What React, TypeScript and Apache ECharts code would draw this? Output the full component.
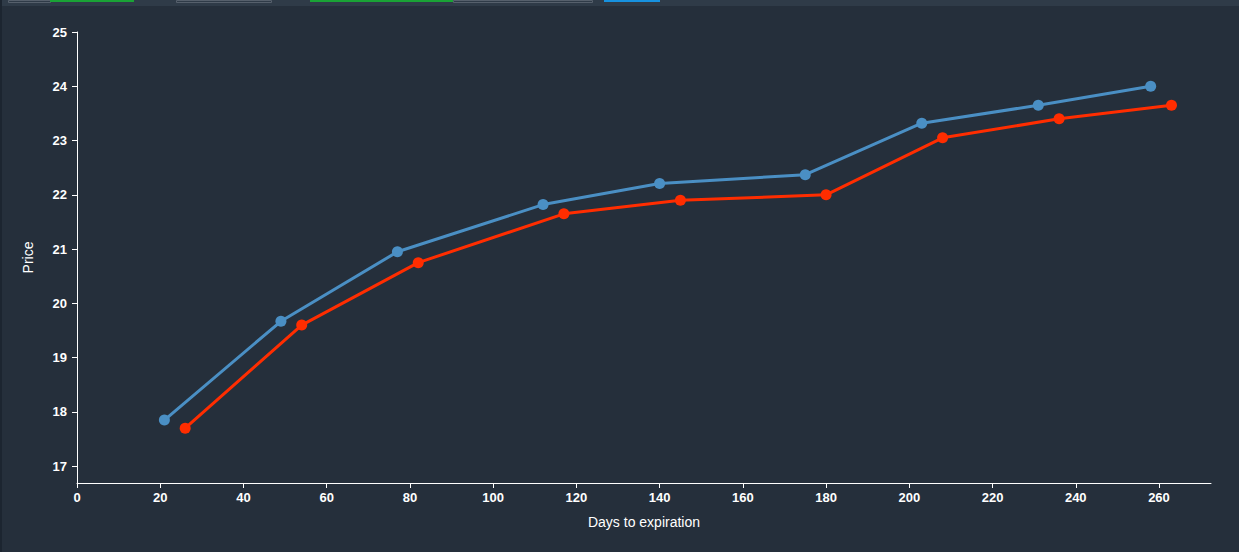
import React, { useEffect, useRef } from "react";
import * as echarts from "echarts";

const seriesNames = ["Series A", "Series B"];
const blueDays = [21, 49, 77, 112, 140, 175, 203, 231, 258];
const bluePrices = [17.85, 19.67, 20.95, 21.82, 22.21, 22.37, 23.32, 23.65, 24.0];
const redDays = [26, 54, 82, 117, 145, 180, 208, 236, 263];
const redPrices = [17.7, 19.6, 20.75, 21.65, 21.9, 22.0, 23.05, 23.4, 23.65];
const yTicks = [17, 18, 19, 20, 21, 22, 23, 24, 25];
const xTitle = "Days to expiration";
const yTitle = "Price";

export default function App() {
  const ref = useRef<HTMLDivElement>(null);
  useEffect(() => {
    if (!ref.current) return;
    const chart = echarts.init(ref.current, undefined, { renderer: "svg" });
    const axisText = { color: "#ffffff", fontFamily: "Liberation Sans, Arial", fontSize: 13, fontWeight: "bold" as const };
    chart.setOption({
      animation: false,
      backgroundColor: "#252f3b",
      graphic: [
        { type: "rect", left: 0, top: 0, shape: { width: 1239, height: 6 }, style: { fill: "#2f3b48" }, silent: true },
        { type: "rect", left: 0, top: 0, shape: { width: 2, height: 552 }, style: { fill: "#1c2530" }, silent: true },
        { type: "rect", left: 8, top: 0, shape: { width: 42, height: 2 }, style: { fill: "#2f3b48", stroke: "#56606c", lineWidth: 1 }, silent: true },
        { type: "rect", left: 50, top: 0, shape: { width: 84, height: 2 }, style: { fill: "#1aa336" }, silent: true },
        { type: "rect", left: 176, top: 0, shape: { width: 95, height: 2 }, style: { fill: "#2f3b48", stroke: "#56606c", lineWidth: 1 }, silent: true },
        { type: "rect", left: 310, top: 0, shape: { width: 143, height: 2 }, style: { fill: "#1aa336" }, silent: true },
        { type: "rect", left: 453, top: 0, shape: { width: 139, height: 2 }, style: { fill: "#2f3b48", stroke: "#56606c", lineWidth: 1 }, silent: true },
        { type: "rect", left: 604, top: 0, shape: { width: 56, height: 2 }, style: { fill: "#1792e0" }, silent: true },
      ],
      grid: { left: 77, right: 28, top: 32, bottom: 69, containLabel: false },
      xAxis: {
        type: "value",
        min: 0,
        max: 272.5,
        interval: 20,
        name: xTitle,
        nameLocation: "middle",
        nameGap: 32,
        nameTextStyle: { color: "#ffffff", fontFamily: "Liberation Sans Narrow, Liberation Sans, Arial", fontSize: 14 },
        axisLine: { show: true, lineStyle: { color: "#ffffff", width: 1 } },
        axisTick: { show: true, length: 5, lineStyle: { color: "#ffffff" } },
        axisLabel: { ...axisText, margin: 8, showMaxLabel: false },
        splitLine: { show: false },
      },
      yAxis: {
        type: "value",
        min: 16.69,
        max: 25,
        name: yTitle,
        nameLocation: "middle",
        nameGap: 42,
        nameTextStyle: { color: "#ffffff", fontFamily: "Liberation Sans, Arial", fontSize: 14 },
        axisLine: { show: true, lineStyle: { color: "#ffffff", width: 1 } },
        axisTick: { show: true, length: 5, lineStyle: { color: "#ffffff" }, customValues: yTicks },
        axisLabel: { ...axisText, margin: 10, customValues: yTicks },
        splitLine: { show: false },
      },
      series: [
        {
          name: seriesNames[0],
          type: "line",
          data: blueDays.map((d, i) => [d, bluePrices[i]]),
          symbol: "circle",
          symbolSize: 11,
          lineStyle: { color: "#4a8fc4", width: 3 },
          itemStyle: { color: "#4a8fc4" },
        },
        {
          name: seriesNames[1],
          type: "line",
          data: redDays.map((d, i) => [d, redPrices[i]]),
          symbol: "circle",
          symbolSize: 11,
          lineStyle: { color: "#ff2d00", width: 3 },
          itemStyle: { color: "#ff2d00" },
        },
      ],
    });
    return () => chart.dispose();
  }, []);
  return <div ref={ref} style={{ position: "fixed", left: 0, top: 0, width: 1239, height: 552 }} />;
}
